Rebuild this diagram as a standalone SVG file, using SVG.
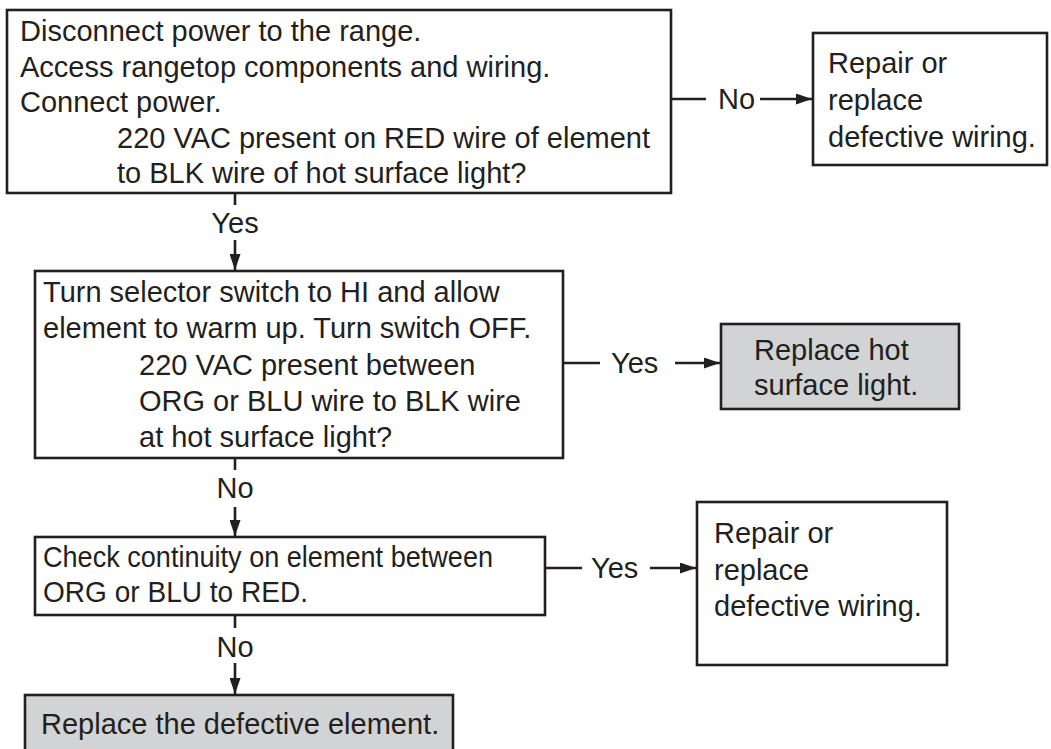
<svg xmlns="http://www.w3.org/2000/svg" width="1051" height="749" viewBox="0 0 1051 749">
  <style>
    .box { fill: #ffffff; stroke: #231f20; stroke-width: 2.6; }
    .box.action { fill: #d1d3d4; }
    .txt { font-family: "Liberation Sans", Arial, sans-serif; font-size: 29px; fill: #231f20; }
    .wire { fill: none; stroke: #231f20; stroke-width: 2.6; }
  </style>
  <defs>
    <marker id="arrow" viewBox="0 0 16 11" refX="16" refY="5.5" markerWidth="16" markerHeight="11" markerUnits="userSpaceOnUse" orient="auto">
      <path d="M0,0 L16,5.5 L0,11 z" fill="#231f20"/>
    </marker>
  </defs>
  <rect width="1051" height="749" fill="#ffffff"/>

  <!-- step 1: check supply at element / hot surface light -->
  <g id="step-supply">
    <rect class="box" x="7" y="10" width="664" height="183"/>
    <text class="txt" x="20" y="41">Disconnect power to the range.</text>
    <text class="txt" x="20" y="77">Access rangetop components and wiring.</text>
    <text class="txt" x="20" y="112">Connect power.</text>
    <text class="txt" x="117" y="148">220 VAC present on RED wire of element</text>
    <text class="txt" x="117" y="183">to BLK wire of hot surface light?</text>
  </g>

  <g id="fix-wiring-1">
    <rect class="box" x="813" y="33" width="234" height="132"/>
    <text class="txt" x="828" y="73">Repair or</text>
    <text class="txt" x="828" y="110">replace</text>
    <text class="txt" x="828" y="147">defective wiring.</text>
  </g>

  <!-- step 2: warm element, check switch outputs -->
  <g id="step-switch">
    <rect class="box" x="35" y="271" width="528" height="187"/>
    <text class="txt" x="43" y="302">Turn selector switch to HI and allow</text>
    <text class="txt" x="43" y="338">element to warm up. Turn switch OFF.</text>
    <text class="txt" x="139" y="375">220 VAC present between</text>
    <text class="txt" x="139" y="411">ORG or BLU wire to BLK wire</text>
    <text class="txt" x="139" y="447">at hot surface light?</text>
  </g>

  <g id="replace-light">
    <rect class="box action" x="721" y="324" width="238" height="85"/>
    <text class="txt" x="754" y="360">Replace hot</text>
    <text class="txt" x="754" y="395">surface light.</text>
  </g>

  <!-- step 3: element continuity -->
  <g id="step-continuity">
    <rect class="box" x="35" y="537" width="510" height="78"/>
    <text class="txt" x="43" y="567" textLength="450" lengthAdjust="spacingAndGlyphs">Check continuity on element between</text>
    <text class="txt" x="43" y="602" textLength="265" lengthAdjust="spacingAndGlyphs">ORG or BLU to RED.</text>
  </g>

  <g id="fix-wiring-2">
    <rect class="box" x="697" y="502" width="250" height="163"/>
    <text class="txt" x="714" y="543">Repair or</text>
    <text class="txt" x="714" y="580">replace</text>
    <text class="txt" x="714" y="616">defective wiring.</text>
  </g>

  <g id="replace-element">
    <rect class="box action" x="25" y="695" width="428" height="70"/>
    <text class="txt" x="41" y="734">Replace the defective element.</text>
  </g>

  <g id="connectors">
    <!-- supply: No -->
    <line class="wire" x1="671" y1="99" x2="706" y2="99"/>
    <text class="txt" x="718" y="109">No</text>
    <line class="wire" x1="760" y1="99" x2="812" y2="99" marker-end="url(#arrow)"/>
    <!-- supply: Yes -->
    <line class="wire" x1="235" y1="193" x2="235" y2="205"/>
    <text class="txt" x="235" y="233" text-anchor="middle">Yes</text>
    <line class="wire" x1="235" y1="240" x2="235" y2="270" marker-end="url(#arrow)"/>
    <!-- switch: Yes -->
    <line class="wire" x1="563" y1="363" x2="600" y2="363"/>
    <text class="txt" x="611" y="373">Yes</text>
    <line class="wire" x1="675" y1="363" x2="720" y2="363" marker-end="url(#arrow)"/>
    <!-- switch: No -->
    <line class="wire" x1="235" y1="458" x2="235" y2="470"/>
    <text class="txt" x="235" y="498" text-anchor="middle">No</text>
    <line class="wire" x1="235" y1="507" x2="235" y2="536" marker-end="url(#arrow)"/>
    <!-- continuity: Yes -->
    <line class="wire" x1="545" y1="568" x2="582" y2="568"/>
    <text class="txt" x="591" y="578">Yes</text>
    <line class="wire" x1="650" y1="568" x2="696" y2="568" marker-end="url(#arrow)"/>
    <!-- continuity: No -->
    <line class="wire" x1="235" y1="615" x2="235" y2="628"/>
    <text class="txt" x="235" y="657" text-anchor="middle">No</text>
    <line class="wire" x1="235" y1="663" x2="235" y2="694" marker-end="url(#arrow)"/>
  </g>
</svg>
